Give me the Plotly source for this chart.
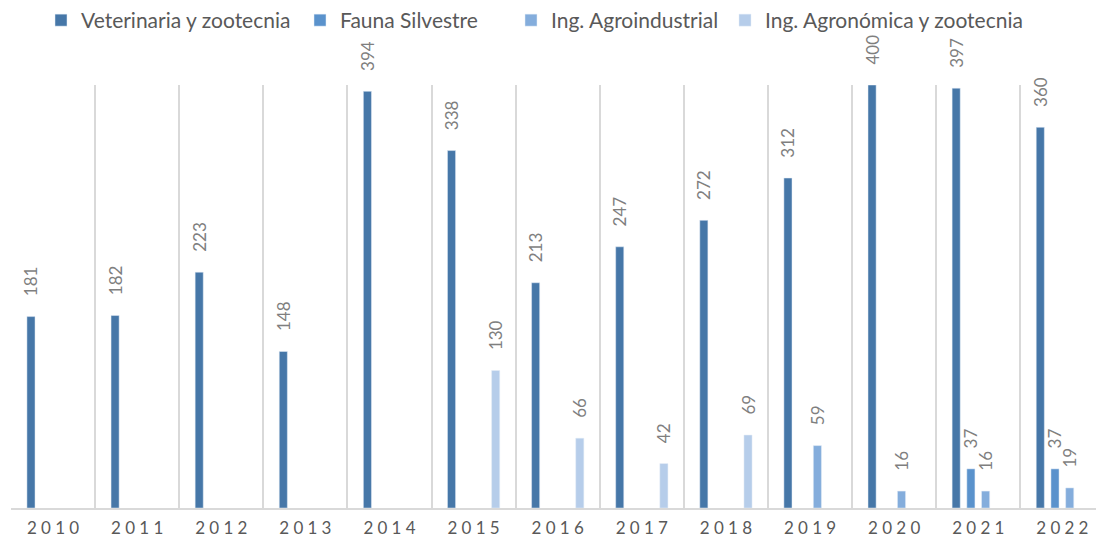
import plotly.graph_objects as go

years = ["2010", "2011", "2012", "2013", "2014", "2015", "2016", "2017", "2018", "2019", "2020", "2021", "2022"]
tick_labels = ["\u2005".join(list(y)) for y in years]

veterinaria = [181, 182, 223, 148, 394, 338, 213, 247, 272, 312, 400, 397, 360]
fauna = [None, None, None, None, None, None, None, None, None, None, None, 37, 37]
agroindustrial = [None, None, None, None, None, None, None, None, None, 59, 16, 16, 19]
agronomica = [None, None, None, None, None, 130, 66, 42, 69, None, None, None, None]

series = [
    ("Veterinaria y zootecnia", veterinaria, "#4677A8", "legend", 83),
    ("Fauna Silvestre", fauna, "#5A92CC", "legend2", 342),
    ("Ing. Agroindustrial", agroindustrial, "#84ADDC", "legend3", 553),
    ("Ing. Agronómica y zootecnia", agronomica, "#B6CDEA", "legend4", 767),
]

W, H = 1096, 548
PAD = "\u00a0" * 4
fig = go.Figure()
legend_layout = {}
for name, vals, color, leg, text_x in series:
    fig.add_trace(go.Bar(
        name=name, x=years, y=vals, marker_color=color, legend=leg, showlegend=True,
        text=[("" if v is None else PAD + str(v)) for v in vals],
        textposition="outside", textangle=-90, constraintext="none",
        textfont=dict(size=17, color="#7F7F7F", family="Lato"),
        cliponaxis=False,
    ))
    legend_layout[leg] = dict(
        x=(text_x - 42) / W, xanchor="left", xref="container",
        y=1.0, yanchor="top", yref="container",
        orientation="h", font=dict(size=21, color="#595959"),
        bgcolor="rgba(0,0,0,0)", visible=True,
    )

fig.update_layout(
    width=W, height=H, showlegend=True,
    barmode="group", bargap=0.30, bargroupgap=0.45,
    plot_bgcolor="white", paper_bgcolor="white",
    margin=dict(l=11, r=0, t=85, b=40, autoexpand=False),
    font=dict(family="Lato", color="#595959"),
    **legend_layout,
)
fig.update_xaxes(
    range=[-0.5, 12.4], tickmode="array", tickvals=years, ticktext=tick_labels,
    tickson="boundaries", showgrid=True, gridcolor="#D9D9D9", gridwidth=2,
    ticks="", tickfont=dict(size=17, color="#595959", family="Lato"),
    showline=True, linecolor="#D9D9D9", linewidth=2, ticklabelstandoff=4,
)
fig.update_yaxes(range=[0, 400], visible=False, showgrid=False, zeroline=False)

fig.write_html("out.html", config={"displayModeBar": False},
               post_script="document.body.style.margin='0px';")
